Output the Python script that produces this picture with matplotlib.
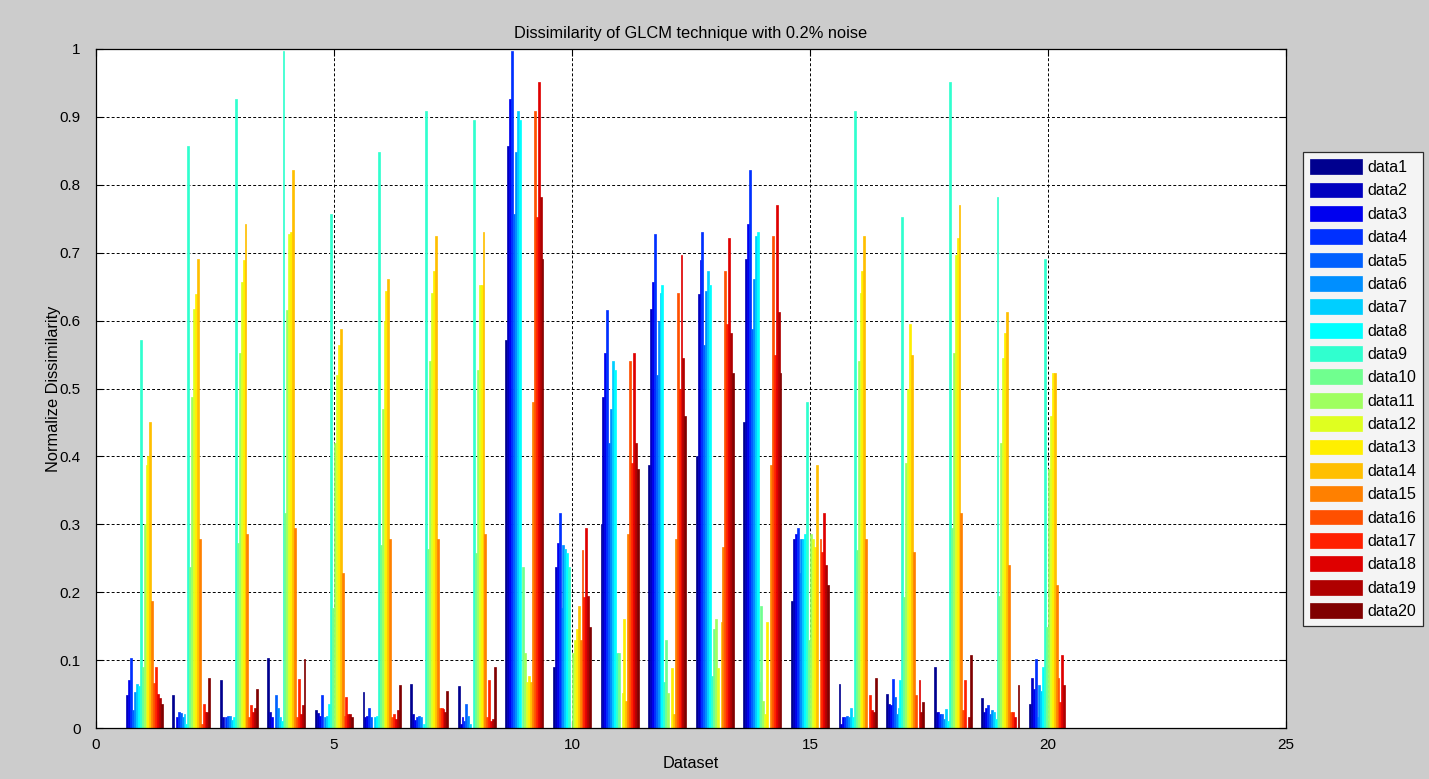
import numpy as np
import matplotlib
matplotlib.use("Agg")
import matplotlib.pyplot as plt

# one list per dataset (x position), entries are data1..data20
set01 = [0, .049, .070, .103, .027, .053, .065, .062, .571, .090, .300, .387, .400, .450, .187, .066, .090, .050, .044, .036]
set02 = [.049, 0, .016, .024, .022, .016, .020, .006, .857, .237, .487, .617, .639, .691, .278, .006, .036, .024, .024, .073]
set03 = [.070, .016, 0, .016, .018, .018, .012, .016, .926, .273, .552, .657, .689, .743, .285, .016, .034, .024, .030, .058]
set04 = [.103, .024, .016, 0, .049, .030, .016, .010, .997, .317, .615, .727, .730, .822, .295, .016, .072, .020, .034, .102]
set05 = [.027, .022, .018, .049, 0, .016, .018, .036, .757, .176, .420, .520, .564, .587, .228, .018, .046, .021, .021, .016]
set06 = [.053, .016, .018, .030, .016, 0, .016, .018, .848, .270, .470, .600, .644, .662, .278, .016, .020, .013, .027, .064]
set07 = [.065, .020, .012, .016, .018, .016, 0, .006, .908, .264, .541, .640, .673, .724, .279, .030, .030, .028, .024, .054]
set08 = [.062, .006, .016, .010, .036, .018, .006, 0, .895, .258, .527, .652, .653, .731, .285, .016, .070, .010, .013, .090]
set09 = [.571, .857, .926, .997, .757, .848, .908, .895, 0, .237, .110, .068, .077, .068, .480, .908, .753, .952, .782, .690]
set10 = [.090, .237, .273, .317, .176, .270, .264, .258, .237, 0, .110, .130, .146, .179, .130, .262, .193, .295, .195, .149]
set11 = [.300, .487, .552, .615, .420, .470, .541, .527, .110, .110, 0, .052, .160, .040, .285, .541, .390, .553, .420, .382]
set12 = [.387, .617, .657, .727, .520, .600, .640, .652, .068, .130, .052, 0, .088, .020, .278, .640, .500, .696, .545, .459]
set13 = [.400, .639, .689, .730, .564, .644, .673, .653, .077, .146, .160, .088, 0, .156, .267, .673, .595, .722, .582, .523]
set14 = [.450, .691, .743, .822, .587, .662, .724, .731, .068, .179, .040, .020, .156, 0, .387, .724, .550, .770, .612, .523]
set15 = [.187, .278, .285, .295, .228, .278, .279, .285, .480, .130, .285, .278, .267, .387, 0, .279, .259, .316, .240, .210]
set16 = [.065, .006, .016, .016, .018, .016, .030, .016, .908, .262, .541, .640, .673, .724, .279, 0, .049, .027, .023, .073]
set17 = [.050, .036, .034, .072, .046, .020, .030, .070, .753, .193, .390, .500, .595, .550, .259, .049, 0, .070, .023, .038]
set18 = [.090, .024, .024, .020, .021, .013, .028, .010, .952, .295, .553, .696, .722, .770, .316, .027, .070, 0, .016, .107]
set19 = [.044, .024, .030, .034, .021, .027, .024, .013, .782, .195, .420, .545, .582, .612, .240, .023, .023, .016, 0, .064]
set20 = [.036, .073, .058, .102, .016, .064, .054, .090, .690, .149, .382, .459, .523, .523, .210, .073, .038, .107, .064, 0]

values = np.array([set01, set02, set03, set04, set05, set06, set07, set08, set09, set10,
                   set11, set12, set13, set14, set15, set16, set17, set18, set19, set20])
datasets = np.arange(1, 21)
series_names = ["data%d" % k for k in range(1, 21)]


def matlab_jet(m=64):
    # same construction as MATLAB's jet.m
    n = int(np.ceil(m / 4.0))
    u = np.concatenate([np.arange(1, n + 1) / n, np.ones(n - 1), np.arange(n, 0, -1) / n])
    g = int(np.ceil(n / 2.0)) - (1 if m % 4 == 1 else 0) + np.arange(1, len(u) + 1)
    r = g + n
    b = g - n
    cmap = np.zeros((m, 3))
    for rows, ch in ((r, 0), (g, 1), (b, 2)):
        ok = (rows >= 1) & (rows <= m)
        cmap[rows[ok] - 1, ch] = u[ok]
    return cmap


jet64 = matlab_jet(64)
nser = values.shape[1]
colors = [jet64[min(int(k * 64 / (nser - 1)), 63)] for k in range(nser)]

plt.rcParams["font.family"] = ["Liberation Sans", "DejaVu Sans"]
fig = plt.figure(figsize=(14.29, 7.79), dpi=100, facecolor="#cccccc")
ax = fig.add_axes([96 / 1429, 51 / 779, 1190 / 1429, 679 / 779])

gw = 0.8
bw = gw / nser
for k in range(nser):
    off = -gw / 2 + (2 * k + 1) * bw / 2
    ax.bar(datasets + off, values[:, k], width=bw, color=colors[k],
           edgecolor=colors[k], linewidth=0.5, label=series_names[k])

ax.set_xlim(0, 25)
ax.set_ylim(0, 1)
ax.set_xticks([0, 5, 10, 15, 20, 25])
ax.set_yticks(np.arange(0, 1.01, 0.1))
ax.set_yticklabels(["0", "0.1", "0.2", "0.3", "0.4", "0.5", "0.6", "0.7", "0.8", "0.9", "1"])
ax.tick_params(direction="in", top=True, right=True, length=5, labelsize=11,
               colors="black")
ax.tick_params(axis="y", pad=11)
ax.tick_params(axis="x", pad=7)
ax.set_axisbelow(True)
ax.grid(True, color="black", linestyle=(0, (3, 2.2)), linewidth=0.7)
for sp in ax.spines.values():
    sp.set_linewidth(0.9)

ax.set_title("Dissimilarity of GLCM technique with 0.2% noise", fontsize=11.8, pad=8)
ax.set_xlabel("Dataset", fontsize=11.8, labelpad=3)
ax.set_ylabel("Normalize Dissimilarity", fontsize=11.8, labelpad=-1)

leg = fig.legend(loc="upper left", bbox_to_anchor=(1303 / 1429, 1 - 152 / 779),
                 borderaxespad=0, fontsize=11.5, frameon=True, fancybox=False,
                 handlelength=3.25, handleheight=1.05, labelspacing=0.47,
                 handletextpad=0.3, borderpad=0.45)
leg.get_frame().set_edgecolor("black")
leg.get_frame().set_linewidth(0.9)

plt.savefig("out.png", dpi=100, facecolor=fig.get_facecolor())
